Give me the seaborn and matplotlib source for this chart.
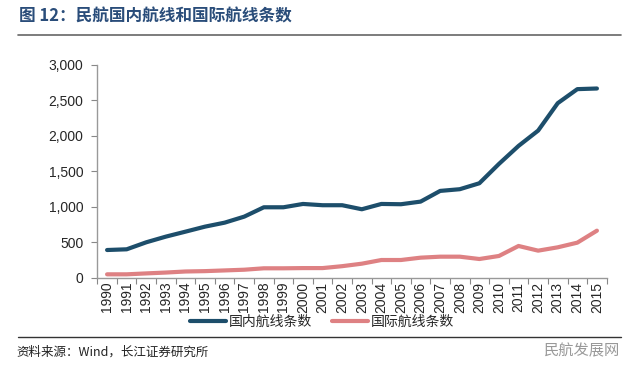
import numpy as np
import pandas as pd
import matplotlib.pyplot as plt
import seaborn as sns

years = [str(y) for y in range(1990, 2016)]
domestic = [388, 398, 497, 577, 647, 718, 774, 859, 991, 991, 1038, 1020, 1020, 963,
            1038, 1034, 1071, 1222, 1246, 1330, 1603, 1857, 2073, 2460, 2658, 2667]
international = [45, 45, 58, 70, 85, 90, 100, 110, 130, 130, 133, 133, 160, 195,
                 247, 247, 280, 294, 294, 261, 304, 445, 379, 426, 492, 661]
series_names = ['国内航线条数', '国际航线条数']
colors = ['#1d4e6b', '#de8183']

df = pd.DataFrame({
    'year': years * 2,
    'idx': list(range(len(years))) * 2,
    'value': domestic + international,
    'series': [series_names[0]] * len(years) + [series_names[1]] * len(years),
})

sns.set_style('white')
plt.rcParams['font.family'] = ['Noto Sans CJK SC', 'DejaVu Sans']

fig = plt.figure(figsize=(6.4, 3.73), dpi=100)
ax = fig.add_axes([0.152, 0.256, 0.796, 0.57])

sns.lineplot(data=df, x='idx', y='value', hue='series', palette=colors,
             linewidth=3, ax=ax, legend=False)

ax.set_xlim(-0.5, len(years) - 0.5)
ax.set_ylim(0, 3000)
ax.set_yticks(range(0, 3001, 500))
ax.set_yticklabels([f'{v:,}' for v in range(0, 3001, 500)], fontsize=10, family='Liberation Sans')
ax.set_xticks(np.arange(-0.5, len(years), 1))
ax.set_xticklabels([])
ax.set_xticks(range(len(years)), minor=True)
ax.set_xticklabels(years, minor=True, rotation=90, fontsize=10, family='Liberation Sans')
ax.tick_params(axis='x', which='major', length=4, color='#888888', direction='out', bottom=True)
ax.tick_params(axis='x', which='minor', length=0, pad=3)
ax.tick_params(axis='y', length=4, color='#888888', direction='out', left=True, pad=6)
ax.set_xlabel('')
ax.set_ylabel('')
for s in ['top', 'right']:
    ax.spines[s].set_visible(False)
for s in ['left', 'bottom']:
    ax.spines[s].set_color('#999999')
    ax.spines[s].set_linewidth(1)

handles = [plt.Line2D([], [], color=c, lw=3) for c in colors]
fig.legend(handles, series_names, loc='center', bbox_to_anchor=(0.503, 0.137),
           ncol=2, frameon=False, fontsize=10, handlelength=2.6, handletextpad=0.2,
           columnspacing=1.45, borderpad=0)

fig.text(0.03, 0.955, '图 12：民航国内航线和国际航线条数', fontsize=12, fontweight='bold',
         color='#2a4d7a', va='center')
fig.add_artist(plt.Line2D([0.028, 0.97], [0.906, 0.906], color='#666666', lw=1.2))
fig.add_artist(plt.Line2D([0.028, 0.97], [0.0965, 0.0965], color='#333333', lw=1))
fig.text(0.026, 0.056, '资料来源：Wind，长江证券研究所', fontsize=9, color='#222222', va='center')
fig.text(0.85, 0.058, '民航发展网', fontsize=11, color='#999999', va='center')

fig.savefig('out.png', dpi=100)
